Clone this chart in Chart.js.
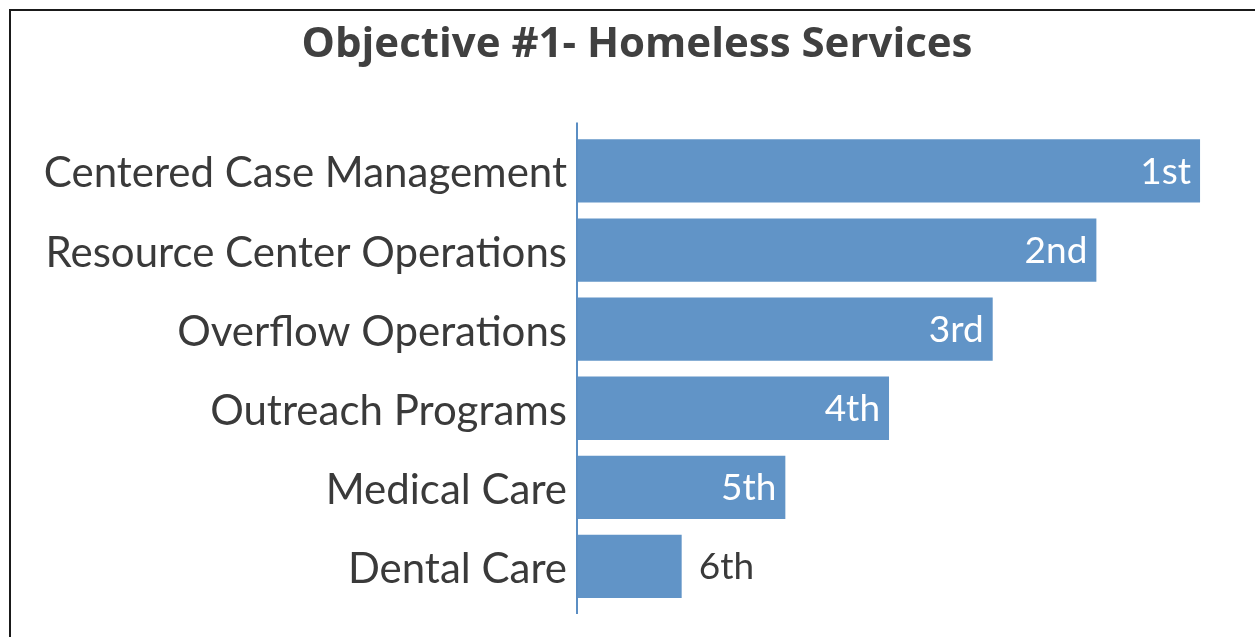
<!DOCTYPE html>
<html>
<head>
<meta charset="utf-8">
<script src="https://cdn.jsdelivr.net/npm/chart.js@4"></script>
<style>
	html, body { margin: 0; padding: 0; background: #fff; overflow: hidden; }
	.frame {
		position: absolute; left: 9px; top: 9px; width: 1400px; height: 800px;
		border-top: 2px solid #1a1a1a; border-left: 2px solid #1a1a1a;
	}
	.wrap { position: absolute; left: 0; top: 0; width: 1255px; height: 637px; }
</style>
</head>
<body>
<div class="frame"></div>
<div class="wrap"><canvas id="ObjectiveChart"></canvas></div>
<script>

const titleText = 'Objective #1- Homeless Services'
const services = ['Centered Case Management', 'Resource Center Operations', 'Overflow Operations', 'Outreach Programs', 'Medical Care', 'Dental Care']
const scores = [6, 5, 4, 3, 2, 1]
const ranks = ['1st', '2nd', '3rd', '4th', '5th', '6th']

const barColor = '#6194c7'
const textColor = '#3a3a3a'
const fontFamily = 'Lato, "Open Sans", sans-serif'

// y axis line, a bit longer than the bars area
const axisLine = {
	id: 'axisLine',
	afterDatasetsDraw(chart) {
		const { ctx, chartArea } = chart
		ctx.save()
		ctx.strokeStyle = '#5b8ec3'
		ctx.lineWidth = 2
		ctx.beginPath()
		ctx.moveTo(chartArea.left - 1, chartArea.top - 9)
		ctx.lineTo(chartArea.left - 1, chartArea.bottom + 8)
		ctx.stroke()
		ctx.restore()
	}
}

// rank text at the end of each bar
const rankLabels = {
	id: 'rankLabels',
	afterDatasetsDraw(chart) {
		const ctx = chart.ctx
		const meta = chart.getDatasetMeta(0)
		ctx.save()
		ctx.font = '37px ' + fontFamily
		ctx.textBaseline = 'middle'
		meta.data.forEach((bar, i) => {
			const txt = ranks[i]
			const w = ctx.measureText(txt).width
			const barW = bar.x - bar.base
			if (barW > w * 2.5) {
				ctx.fillStyle = '#ffffff'
				ctx.textAlign = 'right'
				ctx.fillText(txt, bar.x - 9, bar.y + 1)
			} else {
				ctx.fillStyle = textColor
				ctx.textAlign = 'left'
				ctx.fillText(txt, bar.x + 17, bar.y + 1)
			}
		})
		ctx.restore()
	}
}

const data = {
	labels: services,
	datasets: [{
		label: 'Rank',
		data: scores,
		backgroundColor: barColor,
		borderWidth: 0,
		categoryPercentage: 1,
		barPercentage: 0.8,
	}]
}

const config = {
	type: 'bar',
	data: data,
	options: {
		indexAxis: 'y',
		responsive: true,
		maintainAspectRatio: false,
		animation: false,
		layout: {
			padding: { left: 19, right: 0, top: 12, bottom: 31 }
		},
		plugins: {
			legend: { display: false },
			tooltip: { enabled: false },
			title: {
				display: true,
				text: titleText,
				color: '#404040',
				font: { family: '"Open Sans", sans-serif', size: 42, weight: 'bold' },
				padding: { top: 8, bottom: 61 }
			}
		},
		scales: {
			x: {
				display: false,
				min: 0,
				max: 6.53
			},
			y: {
				afterFit: function (scale) {
					scale.width = 559
				},
				grid: { display: false, drawTicks: false },
				border: { display: false },
				ticks: {
					color: textColor,
					padding: 11,
					labelOffset: 3,
					font: { family: fontFamily, size: 42, lineHeight: 0.6 }
				}
			}
		}
	},
	plugins: [axisLine, rankLabels]
}

const ObjectiveChart = new Chart(
	document.getElementById('ObjectiveChart'),
	config
)

</script>
</body>
</html>
